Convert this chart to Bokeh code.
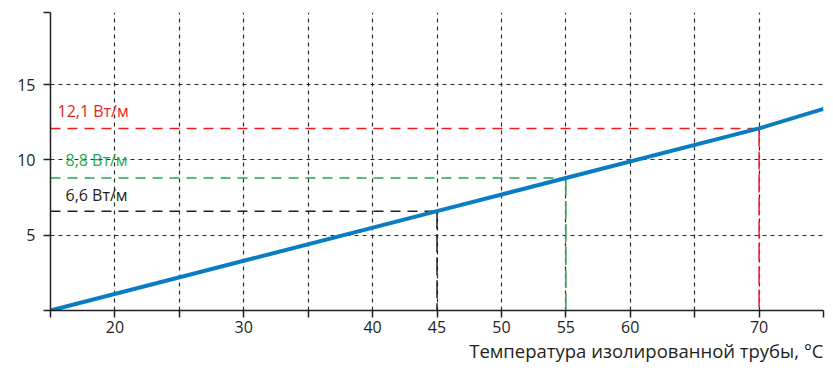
from bokeh.plotting import figure
from bokeh.models import Range1d, FixedTicker, Title
from bokeh.core.properties import value
from bokeh.embed import file_html
from bokeh.resources import INLINE

# data
temps = [15, 45, 55, 70, 75]
heat = [0, 6.6, 8.8, 12.1, 13.4]

ref_temps = [45, 55, 70]
ref_heat = [6.6, 8.8, 12.1]
ref_labels = ["6,6 Вт/м", "8,8 Вт/м", "12,1 Вт/м"]
ref_colors = ["#231f20", "#1fa84f", "#ed1c24"]

x_ticks = [15, 20, 25, 30, 35, 40, 45, 50, 55, 60, 65, 70, 75]
x_tick_labels = {15: "", 25: "", 35: "", 65: "", 75: ""}
y_ticks = [0, 5, 10, 15, 19.8]
y_tick_labels = {0: "", 19.8: ""}
x_title = "Температура изолированной трубы, °C"

FONT = "Open Sans"
TXT = "#231f20"

p = figure(width=825, height=362, output_backend="svg", toolbar_location=None,
           x_range=Range1d(15, 75), y_range=Range1d(0, 19.8),
           min_border_left=50, min_border_right=2, min_border_top=12, min_border_bottom=0)
p.outline_line_color = None
p.background_fill_color = "white"
p.border_fill_color = "white"

# axes
p.xaxis.ticker = FixedTicker(ticks=x_ticks)
p.xaxis.major_label_overrides = {k: v for k, v in x_tick_labels.items()}
p.yaxis.ticker = FixedTicker(ticks=y_ticks)
p.yaxis.major_label_overrides = {k: v for k, v in y_tick_labels.items()}
for ax in (p.xaxis, p.yaxis):
    ax.axis_line_color = "#231f20"
    ax.axis_line_width = 1.5
    ax.major_tick_line_color = "#231f20"
    ax.major_tick_line_width = 1.5
    ax.major_tick_out = 7
    ax.major_tick_in = 0
    ax.minor_tick_line_color = None
    ax.major_label_text_font = FONT
    ax.major_label_text_font_size = "16px"
    ax.major_label_text_color = TXT
p.yaxis.major_label_standoff = 8
p.xaxis.major_label_standoff = 3

p.add_layout(Title(text=x_title, align="right", text_font=FONT, text_font_size="18.5px",
                   text_font_style="normal", text_color=TXT, standoff=0, offset=0), "below")

# grid
for g in (p.xgrid, p.ygrid):
    g.grid_line_color = "#231f20"
    g.grid_line_dash = "4 4"
    g.grid_line_width = 1.2
    g.grid_line_alpha = 0.95

# reference lines
for t, h, c in zip(ref_temps, ref_heat, ref_colors):
    p.line([15, t], [h, h], line_color=c, line_width=1.5, line_dash="10 7")
    p.line([t, t], [h, 0], line_color=c, line_width=1.5, line_dash="18 5")

# main line
p.line(temps, heat, line_color="#0a7dc2", line_width=4)

# reference labels
offsets_x = [15, 15, 7]
offsets_y = [-5, -7, -6]
for h, lab, c, ox, oy in zip(ref_heat, ref_labels, ref_colors, offsets_x, offsets_y):
    p.text(x=[15], y=[h], text=[lab], text_color=c, text_font=value(FONT),
           text_font_size="16px", text_baseline="bottom", text_align="left",
           x_offset=ox, y_offset=oy)

open("out.html", "w").write(file_html(p, INLINE))
